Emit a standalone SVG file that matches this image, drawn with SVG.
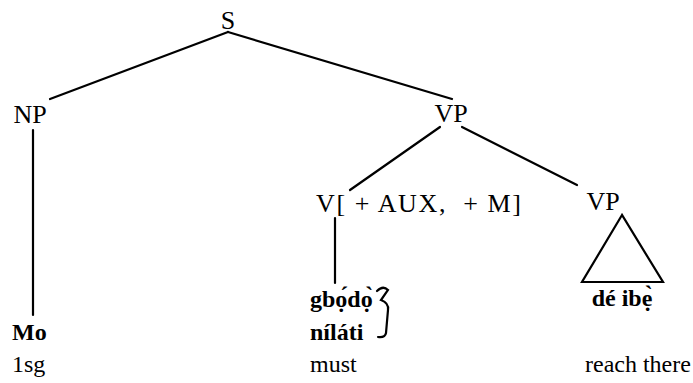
<svg xmlns="http://www.w3.org/2000/svg" width="693" height="383" viewBox="0 0 693 383">
  <style>
    text { font-family: "Liberation Serif", "Times New Roman", Times, serif; font-size: 24px; fill: #000; }
    .cat { font-size: 26px; }
    .b { font-weight: bold; }
    .ln { stroke: #000; stroke-width: 2.2; fill: none; stroke-linecap: round; }
  </style>
  <rect width="693" height="383" fill="#fff"/>
  <g id="connectors">
    <line class="ln" x1="228" y1="32" x2="50" y2="99"/>
    <line class="ln" x1="228" y1="32" x2="452" y2="99"/>
    <line class="ln" x1="440" y1="127" x2="350" y2="190"/>
    <line class="ln" x1="462" y1="127" x2="577" y2="185"/>
    <line class="ln" x1="33" y1="130" x2="33" y2="315"/>
    <line class="ln" x1="335" y1="218" x2="335" y2="283"/>
  </g>
  <g id="S"><text class="cat" x="228" y="29" text-anchor="middle">S</text></g>
  <g id="NP"><text class="cat" x="30" y="123" text-anchor="middle">NP</text></g>
  <g id="VP"><text class="cat" x="451" y="122" text-anchor="middle">VP</text></g>
  <g id="V"><text class="cat" x="316" y="212" textLength="205" lengthAdjust="spacing" xml:space="preserve">V[ + AUX,  + M]</text></g>
  <g id="VP2">
    <text class="cat" x="603" y="210" text-anchor="middle">VP</text>
    <polygon class="ln" points="622,215 582,282 663,282"/>
  </g>
  <g id="Mo">
    <text class="b" x="12" y="340">Mo</text>
    <text x="12" y="372">1sg</text>
  </g>
  <g id="gbodo">
    <text class="b" x="310" y="307">gbọ́dọ̀</text>
    <text class="b" x="310" y="340">níláti</text>
    <path class="ln" stroke-width="1.8" d="M377,291 Q383,285 388,290 L381,300 Q389,303 388,310 L386,333 Q385,338 378,337"/>
    <text x="310" y="372">must</text>
  </g>
  <g id="deibe">
    <text class="b" x="622" y="306" text-anchor="middle">dé ibẹ̀</text>
    <text x="585" y="372">reach there</text>
  </g>
</svg>
